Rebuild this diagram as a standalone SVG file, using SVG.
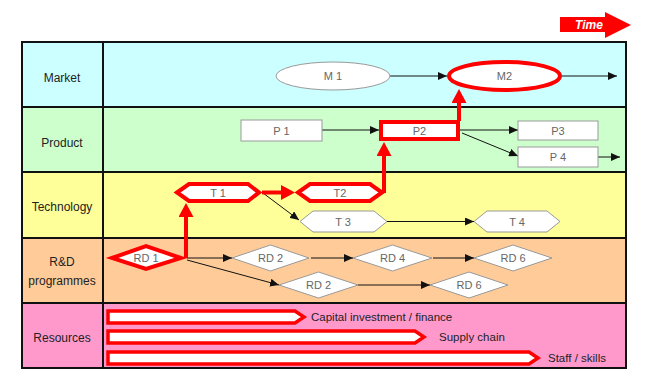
<svg xmlns="http://www.w3.org/2000/svg" width="650" height="390" viewBox="0 0 650 390">
<defs>
<style>
.lbl{font-family:"Liberation Sans",Arial,sans-serif;font-size:12px;fill:#222;text-anchor:middle}
.nt{font-family:"Liberation Sans",Arial,sans-serif;font-size:11px;fill:#666;text-anchor:middle}
.rt{font-family:"Liberation Sans",Arial,sans-serif;font-size:11.5px;fill:#222}
.nd{fill:#fff;stroke:#999;stroke-width:1}
.rd{fill:#fff;stroke:#f00;stroke-width:4}
.bar{fill:#fff;stroke:#f00;stroke-width:3.5}
.thin{stroke:#111;stroke-width:1;fill:none;marker-end:url(#ah)}
.red{stroke:#f00;stroke-width:4;fill:none;marker-end:url(#rh)}
.grid{stroke:#111;stroke-width:2;fill:none}
</style>
<marker id="ah" markerUnits="userSpaceOnUse" markerWidth="9" markerHeight="8" refX="9" refY="4" orient="auto"><path d="M0,0 L9,4 L0,8 z" fill="#111"/></marker>
<marker id="rh" markerUnits="userSpaceOnUse" markerWidth="14" markerHeight="15" refX="6" refY="7.5" orient="auto"><path d="M0,0 L14,7.5 L0,15 z" fill="#f00"/></marker>
</defs>
<rect width="650" height="390" fill="#fff"/>
<g id="time">
<polygon points="560,17 605,17 605,12 631,25 605,38 605,32 560,32" fill="#f00"/>
<text x="589" y="29" font-family="Liberation Sans,Arial,sans-serif" font-size="12" font-weight="bold" font-style="italic" fill="#fff" text-anchor="middle">Time</text>
</g>
<g id="rows">
<rect x="22" y="42" width="604" height="65" fill="#ccffff"/>
<rect x="22" y="107" width="604" height="65" fill="#ccffcc"/>
<rect x="22" y="172" width="604" height="66" fill="#ffff99"/>
<rect x="22" y="238" width="604" height="65" fill="#ffcc99"/>
<rect x="22" y="303" width="604" height="65" fill="#ff99cc"/>
<rect x="22" y="42" width="604" height="326" class="grid"/>
<path d="M22,107 H626 M22,172 H626 M22,238 H626 M22,303 H626 M103,42 V368" class="grid" stroke-width="1.8"/>
<text class="lbl" x="62" y="82">Market</text>
<text class="lbl" x="62" y="147">Product</text>
<text class="lbl" x="62" y="211">Technology</text>
<text class="lbl" x="62" y="266">R&amp;D</text>
<text class="lbl" x="62" y="285">programmes</text>
<text class="lbl" x="62" y="342">Resources</text>
</g>
<g id="connectors">
<line class="thin" x1="390" y1="76" x2="447" y2="76"/>
<line class="thin" x1="562" y1="76" x2="617" y2="76"/>
<line class="thin" x1="322" y1="130" x2="379" y2="130"/>
<line class="thin" x1="460" y1="130" x2="518" y2="130"/>
<line class="thin" x1="462" y1="133" x2="518" y2="156"/>
<line class="thin" x1="598" y1="157" x2="620" y2="157"/>
<line class="thin" x1="263" y1="193" x2="299" y2="220"/>
<line class="thin" x1="387" y1="221.5" x2="474" y2="221.5"/>
<line class="thin" x1="187" y1="258" x2="232" y2="258"/>
<line class="thin" x1="187" y1="260" x2="279" y2="285"/>
<line class="thin" x1="311" y1="258" x2="353" y2="258"/>
<line class="thin" x1="433" y1="258" x2="474" y2="258"/>
<line class="thin" x1="358" y1="285" x2="430" y2="285"/>
<path class="red" d="M186,258 V211"/>
<path class="red" d="M262,192.5 H287"/>
<path class="red" d="M384,193 V150"/>
<path class="red" d="M459,121 V97"/>
</g>
<g id="M1"><ellipse class="nd" cx="333" cy="76" rx="57" ry="14"/><text class="nt" x="333" y="80">M 1</text></g>
<g id="M2"><ellipse class="rd" cx="504.5" cy="76" rx="55.5" ry="14" stroke-width="3.5"/><text class="nt" x="504.5" y="80">M2</text></g>
<g id="P1"><rect class="nd" x="241" y="120" width="81" height="21"/><text class="nt" x="281.5" y="134.5">P 1</text></g>
<g id="P2"><rect class="rd" x="381" y="122" width="77" height="17"/><text class="nt" x="419.5" y="134.5">P2</text></g>
<g id="P3"><rect class="nd" x="518" y="121" width="80" height="19"/><text class="nt" x="558" y="134.5">P3</text></g>
<g id="P4"><rect class="nd" x="518" y="147" width="80" height="20"/><text class="nt" x="558" y="161">P 4</text></g>
<g id="T1"><polygon class="rd" points="177,192.5 189,184 248,184 259,192.5 248,201 189,201"/><text class="nt" x="218" y="196.5">T 1</text></g>
<g id="T2"><polygon class="rd" points="298,192.5 310,184 370,184 382,192.5 370,201 310,201"/><text class="nt" x="340" y="196.5">T2</text></g>
<g id="T3"><polygon class="nd" points="300,221.5 313,211 374,211 387,221.5 374,232 313,232"/><text class="nt" x="343" y="225.5">T 3</text></g>
<g id="T4"><polygon class="nd" points="474,221.5 487,211 547,211 560,221.5 547,232 487,232"/><text class="nt" x="517" y="225.5">T 4</text></g>
<g id="RD1"><polygon class="rd" points="112,258 146,246 181,258 146,269"/><text class="nt" x="146" y="262">RD 1</text></g>
<g id="RD2a"><polygon class="nd" points="232,258 270.5,245 309,258 270.5,271"/><text class="nt" x="270.5" y="262">RD 2</text></g>
<g id="RD4"><polygon class="nd" points="353,258 392.5,245 432,258 392.5,271"/><text class="nt" x="392.5" y="262">RD 4</text></g>
<g id="RD6a"><polygon class="nd" points="474,258 513,245 552,258 513,271"/><text class="nt" x="513" y="262">RD 6</text></g>
<g id="RD2b"><polygon class="nd" points="279,285 318.5,272 358,285 318.5,298"/><text class="nt" x="318.5" y="289">RD 2</text></g>
<g id="RD6b"><polygon class="nd" points="430,285 469,272 508,285 469,298"/><text class="nt" x="469" y="289">RD 6</text></g>
<g id="R1"><polygon class="bar" points="108,311 295,311 304,317 295,323 108,323"/><text class="rt" x="311" y="321">Capital investment / finance</text></g>
<g id="R2"><polygon class="bar" points="108,331 415,331 424,337 415,343 108,343"/><text class="rt" x="439" y="341">Supply chain</text></g>
<g id="R3"><polygon class="bar" points="108,352 529,352 538,358 529,364 108,364"/><text class="rt" x="548" y="362">Staff / skills</text></g>
</svg>
